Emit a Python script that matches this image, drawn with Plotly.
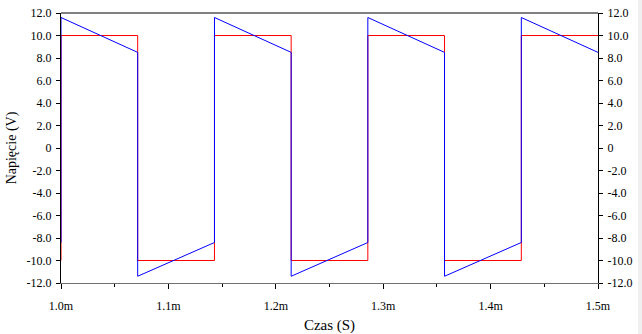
import plotly.graph_objects as go

# Edge times (ms) of the square waves
edge_times = [1.0, 1.0714, 1.1429, 1.2143, 1.2857, 1.3571, 1.4286, 1.5]
# Red: ideal square wave level in each half period
red_levels = [10, -10, 10, -10, 10, -10, 10]
red_initial = -10
# Blue: value at the start and end of each half period
blue_start = [11.6, -11.4, 11.6, -11.4, 11.6, -11.4, 11.6]
blue_end = [8.5, -8.4, 8.5, -8.4, 8.5, -8.4, 8.5]
blue_initial = -8.4

y_ticks = [12, 10, 8, 6, 4, 2, 0, -2, -4, -6, -8, -10, -12]
y_ticktext = ["12.0", "10.0", "8.0", "6.0", "4.0", "2.0", "0", "-2.0", "-4.0",
              "-6.0", "-8.0", "-10.0", "-12.0"]
x_ticks = [1.0, 1.1, 1.2, 1.3, 1.4, 1.5]
x_ticktext = ["1.0m", "1.1m", "1.2m", "1.3m", "1.4m", "1.5m"]

rx, ry = [edge_times[0]], [red_initial]
bx, by = [edge_times[0]], [blue_initial]
for i, lvl in enumerate(red_levels):
    t0, t1 = edge_times[i], edge_times[i + 1]
    rx += [t0, t1]
    ry += [lvl, lvl]
    bx += [t0, t1]
    by += [blue_start[i], blue_end[i]]

FONT = "Liberation Serif"
fig = go.Figure()
fig.add_trace(go.Scatter(x=rx, y=ry, mode="lines", line=dict(color="#ff0000", width=1),
                         showlegend=False, hoverinfo="skip"))
fig.add_trace(go.Scatter(x=bx, y=by, mode="lines", line=dict(color="#0000ff", width=1),
                         showlegend=False, hoverinfo="skip"))
fig.add_trace(go.Scatter(x=[1.0], y=[0], yaxis="y2", mode="markers",
                         marker=dict(opacity=0), showlegend=False, hoverinfo="skip"))

fig.update_layout(
    width=642, height=334,
    margin=dict(l=61, r=44, t=13, b=51),
    paper_bgcolor="white", plot_bgcolor="white",
    font=dict(family=FONT, size=12, color="black"),
    xaxis=dict(range=[1.0, 1.5], tickvals=x_ticks, ticktext=x_ticktext, automargin=False,
               showgrid=False, zeroline=False, showline=True, linecolor="#707070",
               linewidth=1, ticks="outside", ticklen=5, tickcolor="black",
               ticklabelstandoff=7,
               minor=dict(dtick=0.05, tick0=1.0, ticks="outside", ticklen=3, tickcolor="black"),
               title=dict(text="Czas (S)", font=dict(family=FONT, size=15), standoff=12),
               tickfont=dict(family=FONT, size=12)),
    yaxis=dict(range=[-12, 12], tickvals=y_ticks, ticktext=y_ticktext, automargin=False,
               showgrid=False, zeroline=False, showline=True, linecolor="black",
               linewidth=1, ticks="outside", ticklen=4, tickcolor="black",
               ticklabelstandoff=2,
               title=dict(text="Napięcie (V)", font=dict(family=FONT, size=14), standoff=6),
               tickfont=dict(family=FONT, size=12)),
    yaxis2=dict(range=[-12, 12], tickvals=y_ticks, ticktext=y_ticktext, overlaying="y",
                side="right", showgrid=False, zeroline=False, showline=True, automargin=False,
                linecolor="black", linewidth=1, ticks="outside", ticklen=4,
                ticklabelstandoff=2,
                tickcolor="black", tickfont=dict(family=FONT, size=12)),
    shapes=[
        dict(type="line", xref="paper", yref="paper", x0=0, x1=1, y0=1, y1=1,
             line=dict(color="black", width=1)),
        dict(type="rect", xref="paper", yref="paper", x0=1.0745, x1=1.1, y0=-0.3, y1=1.1,
             line=dict(width=0), fillcolor="#f0f0f0", layer="below"),
    ],
)

fig.write_html("out.html")
